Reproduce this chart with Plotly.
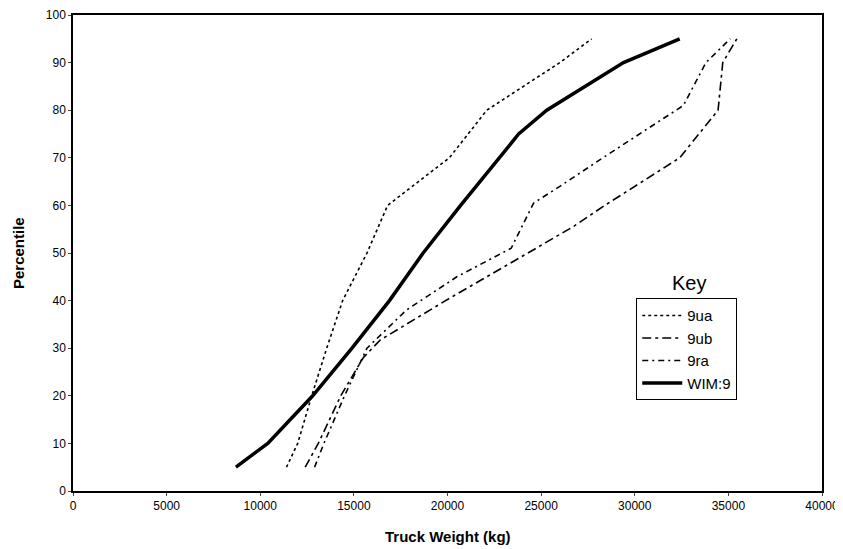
import plotly.graph_objects as go

# Data
ua_x = [11400, 12000, 12750, 13550, 14400, 15700, 16800, 20100, 22100, 26000, 27700]
ua_y = [5, 10, 20, 30, 40, 50, 60, 70, 80, 90, 95]

ub_x = [12400, 13100, 14300, 15500, 16400, 19900, 22100, 24300, 26700, 28400, 32400, 34450, 34700, 35450]
ub_y = [5, 10, 20, 28, 31.7, 40, 45, 50, 55.5, 60, 70, 80, 90, 95]

ra_x = [12900, 13400, 14500, 15700, 17800, 20500, 23400, 24600, 26000, 28300, 32600, 33800, 35100]
ra_y = [5, 10, 20, 30, 38, 45, 51, 60.5, 64, 70, 81, 90, 95]

wim_x = [8700, 10400, 12800, 14900, 16900, 18700, 20700, 22800, 23800, 25300, 29400, 32400]
wim_y = [5, 10, 20, 30, 40, 50, 60, 70, 75, 80, 90, 95]

x_ticks = [0, 5000, 10000, 15000, 20000, 25000, 30000, 35000, 40000]
y_ticks = [0, 10, 20, 30, 40, 50, 60, 70, 80, 90, 100]

fig = go.Figure()
fig.add_trace(go.Scatter(x=ua_x, y=ua_y, mode="lines", name="9ua",
                         line=dict(color="black", width=1.6, dash="3px,3px")))
fig.add_trace(go.Scatter(x=ub_x, y=ub_y, mode="lines", name="9ub",
                         line=dict(color="black", width=1.6, dash="9px,4px,3px,4px")))
fig.add_trace(go.Scatter(x=ra_x, y=ra_y, mode="lines", name="9ra",
                         line=dict(color="black", width=1.6, dash="6px,4px,2px,4px")))
fig.add_trace(go.Scatter(x=wim_x, y=wim_y, mode="lines", name="WIM:9",
                         line=dict(color="black", width=3.5)))

fig.update_layout(
    width=835, height=541,
    margin=dict(l=65, r=21, t=7, b=58),
    paper_bgcolor="white", plot_bgcolor="white",
    font=dict(family="Liberation Sans, Arial, sans-serif", color="black", size=12),
    showlegend=True,
    legend=dict(x=0.752, y=0.405, xanchor="left", yanchor="top",
                bordercolor="black", borderwidth=1, bgcolor="white",
                font=dict(size=15), tracegroupgap=0, itemwidth=40),
    annotations=[
        dict(text="Key", x=0.822, y=0.41, xref="paper", yref="paper",
             xanchor="center", yanchor="bottom", showarrow=False,
             font=dict(size=20)),
        dict(text="<b>Truck Weight (kg)</b>", x=0.5, y=0, xref="paper", yref="paper",
             xanchor="center", yanchor="middle", yshift=-45, showarrow=False,
             font=dict(size=15)),
        dict(text="<b>Percentile</b>", x=0, y=0.5, xref="paper", yref="paper",
             xanchor="center", yanchor="middle", xshift=-55, textangle=-90,
             showarrow=False, font=dict(size=15)),
    ],
)
fig.update_xaxes(range=[0, 40000], tickvals=x_ticks, ticktext=[str(v) for v in x_ticks],
                 showgrid=False, zeroline=False, showline=True, linecolor="black",
                 linewidth=1.5, mirror=True, ticks="outside", ticklen=3,
                 automargin=False)
fig.update_yaxes(range=[0, 100], tickvals=y_ticks, ticktext=[str(v) for v in y_ticks],
                 showgrid=False, zeroline=False, showline=True, linecolor="black",
                 linewidth=1.5, mirror=True, ticks="outside", ticklen=3,
                 automargin=False)

fig.write_html("out.html")
